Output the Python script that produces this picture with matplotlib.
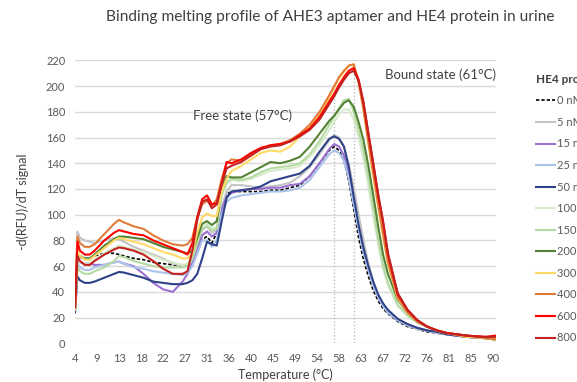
import matplotlib
matplotlib.use("Agg")
import matplotlib.pyplot as plt

plt.rcParams["font.family"] = ["Lato", "DejaVu Sans"]

# temperature grid (deg C) and -dF/dT for each HE4 concentration
temp = [4, 4.5, 5, 6, 7, 8, 10, 12, 13, 14,
        16, 18, 20, 22, 24, 26, 27, 28, 29, 30,
        31, 32, 33, 34, 35, 36, 38, 40, 42, 44,
        46, 48, 50, 52, 54, 56, 57, 58, 59, 60,
        61, 62, 63, 64, 65, 66, 67, 68, 70, 72,
        74, 76, 78, 80, 84, 88, 90]

nM0 = [28, 70, 67, 66, 66, 68, 70, 70, 69, 68,
       66, 65, 63, 62, 61, 60, 60, 62, 70, 81,
       83, 78, 86, 105, 116, 118, 118, 118, 118, 119,
       119, 121, 123, 130, 140, 150, 153, 150, 142, 126,
       104, 82, 65, 52, 41, 33, 27, 23, 17, 13,
       11, 9, 8, 7, 5, 4, 3]
nM5 = [28, 87, 82, 80, 79, 78, 80, 82, 81, 79,
       75, 72, 69, 66, 62, 60, 60, 62, 75, 88,
       91, 86, 88, 106, 118, 123, 123, 122, 121, 122,
       123, 125, 130, 137, 147, 158, 162, 160, 153, 139,
       121, 100, 80, 62, 47, 36, 29, 24, 18, 14,
       11, 10, 8, 7, 5, 4, 3]
nM15 = [27, 66, 63, 62, 62, 61, 61, 63, 63.5, 62,
        60, 54, 47, 42, 40, 48, 54, 62, 72, 84,
        87, 83, 86, 104, 114, 117, 119, 120, 120, 121,
        121, 123, 124, 130, 140, 151, 155, 153, 146, 131,
        110, 89, 71, 57, 45, 36, 29, 24, 18, 14,
        12, 10, 8, 7, 5, 4, 3]
nM25 = [26, 62, 59, 57, 57, 59, 61, 63, 63.5, 62,
        59, 58, 56, 55, 54, 53, 55, 60, 70, 80,
        80, 75, 80, 100, 110, 113, 115, 116, 117, 118,
        118, 119, 121, 127, 137, 147, 150, 148, 142, 128,
        108, 88, 71, 57, 45, 36, 29, 24, 18, 14,
        12, 10, 8, 7, 5, 4, 3]
nM50 = [24, 52, 49, 47, 47, 48, 51, 54, 55.5, 55,
        53, 51, 48, 47, 46, 46, 47, 49, 54, 66,
        79, 77, 76, 95, 113, 118, 119, 120, 122, 126,
        128, 130, 132, 138, 149, 159, 161, 159, 153, 137,
        114, 92, 74, 60, 48, 38, 31, 26, 19, 15,
        12, 10, 9, 7, 5, 4, 3]
nM100 = [27, 66, 63, 62, 62, 65, 70, 74, 76, 75,
         73, 71, 68, 65, 63, 61, 62, 68, 80, 91,
         93, 90, 90, 114, 124, 127, 126, 128, 131, 134,
         135, 136, 138, 145, 154, 166, 172, 178, 182, 182,
         174, 160, 143, 122, 99, 77, 58, 45, 29, 21,
         16, 13, 10, 8, 6, 4, 3]
nM150 = [26, 60, 56, 54, 54, 56, 59, 64, 68, 67,
         64, 62, 60, 59, 59, 59, 60, 66, 78, 89,
         91, 88, 89, 116, 125, 128, 127, 129, 133, 136,
         137, 138, 140, 147, 157, 170, 176, 183, 189, 190,
         180, 166, 150, 129, 105, 81, 61, 47, 30, 22,
         16, 13, 10, 8, 6, 4, 3]
nM200 = [27, 70, 68, 66, 66, 69, 76, 81, 83, 83,
         82, 81, 78, 75, 73, 71, 70, 72, 82, 93,
         95, 92, 95, 122, 130, 129, 129, 133, 137, 141,
         140, 142, 145, 153, 163, 173, 177, 182, 187, 189,
         184, 172, 158, 138, 115, 91, 69, 54, 34, 24,
         17, 13, 10, 8, 6, 4, 3]
nM300 = [27, 72, 68, 65, 65, 68, 74, 80, 82, 81,
         79, 77, 74, 71, 69, 66, 66, 70, 86, 98,
         101, 99, 99, 118, 128, 134, 138, 143, 148, 150,
         149, 153, 161, 168, 178, 191, 199, 206, 211, 216,
         216, 203, 181, 155, 130, 106, 83, 62, 35, 24,
         17, 13, 10, 8, 5, 4, 3]
nM400 = [28, 83, 78, 75, 75, 77, 85, 93, 96, 94,
         91, 89, 84, 80, 77, 76, 77, 82, 98, 108,
         111, 107, 112, 128, 140, 143, 142, 147, 151, 154,
         155, 158, 163, 170, 180, 193, 200, 207, 212, 216,
         217, 203, 182, 156, 132, 108, 85, 63, 36, 24,
         17, 13, 10, 8, 6, 4, 3]
nM600 = [30, 79, 72, 69, 69, 72, 80, 86, 88, 87,
         85, 84, 80, 77, 74, 71, 69, 78, 98, 112,
         115, 108, 109, 124, 141, 140, 143, 148, 152, 154,
         155, 157, 162, 167, 176, 188, 194, 201, 207, 212,
         214, 205, 187, 163, 139, 115, 95, 69, 38, 26,
         18, 13, 10, 8, 6, 5, 6]
nM800 = [28, 68, 64, 61, 61, 64, 69, 73, 74.5, 74,
         72, 69, 64, 58, 54, 54, 56, 72, 96, 110,
         112, 105, 108, 124, 136, 138, 141, 146, 151, 153,
         154, 157, 161, 166, 174, 186, 192, 199, 205, 210,
         212, 204, 187, 163, 140, 116, 94, 70, 39, 26,
         18, 13, 10, 8, 6, 5, 5]

labels = ["0 nM", "5 nM", "15 nM", "25 nM", "50 nM", "100 nM",
          "150 nM", "200 nM", "300 nM", "400 nM", "600 nM", "800 nM"]
series = [nM0, nM5, nM15, nM25, nM50, nM100,
          nM150, nM200, nM300, nM400, nM600, nM800]
colors = ["#000000", "#c3c3c3", "#9b6fcf", "#aac4ea", "#2f4288", "#d8ebcd",
          "#b5dba3", "#548235", "#ffd966", "#e07b39", "#ff0000", "#c42020"]

# Tm markers (free / bound)
free_tm = 57
bound_tm = 61

fig = plt.figure(figsize=(5.77, 3.82), dpi=100)
ax = fig.add_axes([0.130, 0.1013, 0.7288, 0.7406])

for vals, lab, c in zip(series, labels, colors):
    if lab == "0 nM":
        ax.plot(temp, vals, color=c, lw=1.2, ls=(0, (2, 1.2)), label=lab, zorder=3)
    else:
        ax.plot(temp, vals, color=c, lw=1.5, label=lab, zorder=3)

# dotted drop lines from the peaks down to the axis
for tm in (free_tm, bound_tm):
    i = temp.index(tm)
    top = max(s[i] for s in series)
    ax.vlines(tm, 0, top, color="#bfbfbf", lw=1, ls=(0, (1, 1.5)), zorder=2)

ax.text(28.1, 177, f"Free state ({free_tm}°C)", fontsize=9.5, color="#404040",
        ha="left", va="center")
ax.text(90, 208.5, f"Bound state ({bound_tm}°C)", fontsize=9.5, color="#404040",
        ha="right", va="center")

ax.set_xlim(4, 90)
ax.set_ylim(0, 220)
xt = [4 + 4.5 * k for k in range(20)]
ax.set_xticks(xt)
ax.set_xticklabels([str(int(v + 0.5)) for v in xt])
ax.set_yticks(range(0, 221, 20))
ax.tick_params(length=0, labelsize=8, colors="#595959", pad=7)
ax.grid(axis="y", color="#d9d9d9", lw=1)
ax.set_axisbelow(True)
for s in ax.spines.values():
    s.set_visible(False)

ax.set_xlabel("Temperature (°C)", fontsize=9, color="#404040", labelpad=3)
ax.set_ylabel("-d(RFU)/dT signal", fontsize=9, color="#404040", labelpad=12)

fig.text(0.572, 0.955, "Binding melting profile of AHE3 aptamer and HE4 protein in urine",
         fontsize=11.2, color="#404040", ha="center", va="center")

leg = ax.legend(title="HE4 protein", loc="upper left", bbox_to_anchor=(0.929, 0.807),
                bbox_transform=fig.transFigure, frameon=False, fontsize=8,
                handlelength=1.7, handletextpad=0.2, labelspacing=0.95,
                alignment="left", borderaxespad=0, borderpad=0)
leg.get_title().set_fontweight("bold")
leg.get_title().set_fontsize(8.5)
leg.get_title().set_color("#404040")
for t in leg.get_texts():
    t.set_color("#595959")

fig.savefig("out.png", dpi=100)
